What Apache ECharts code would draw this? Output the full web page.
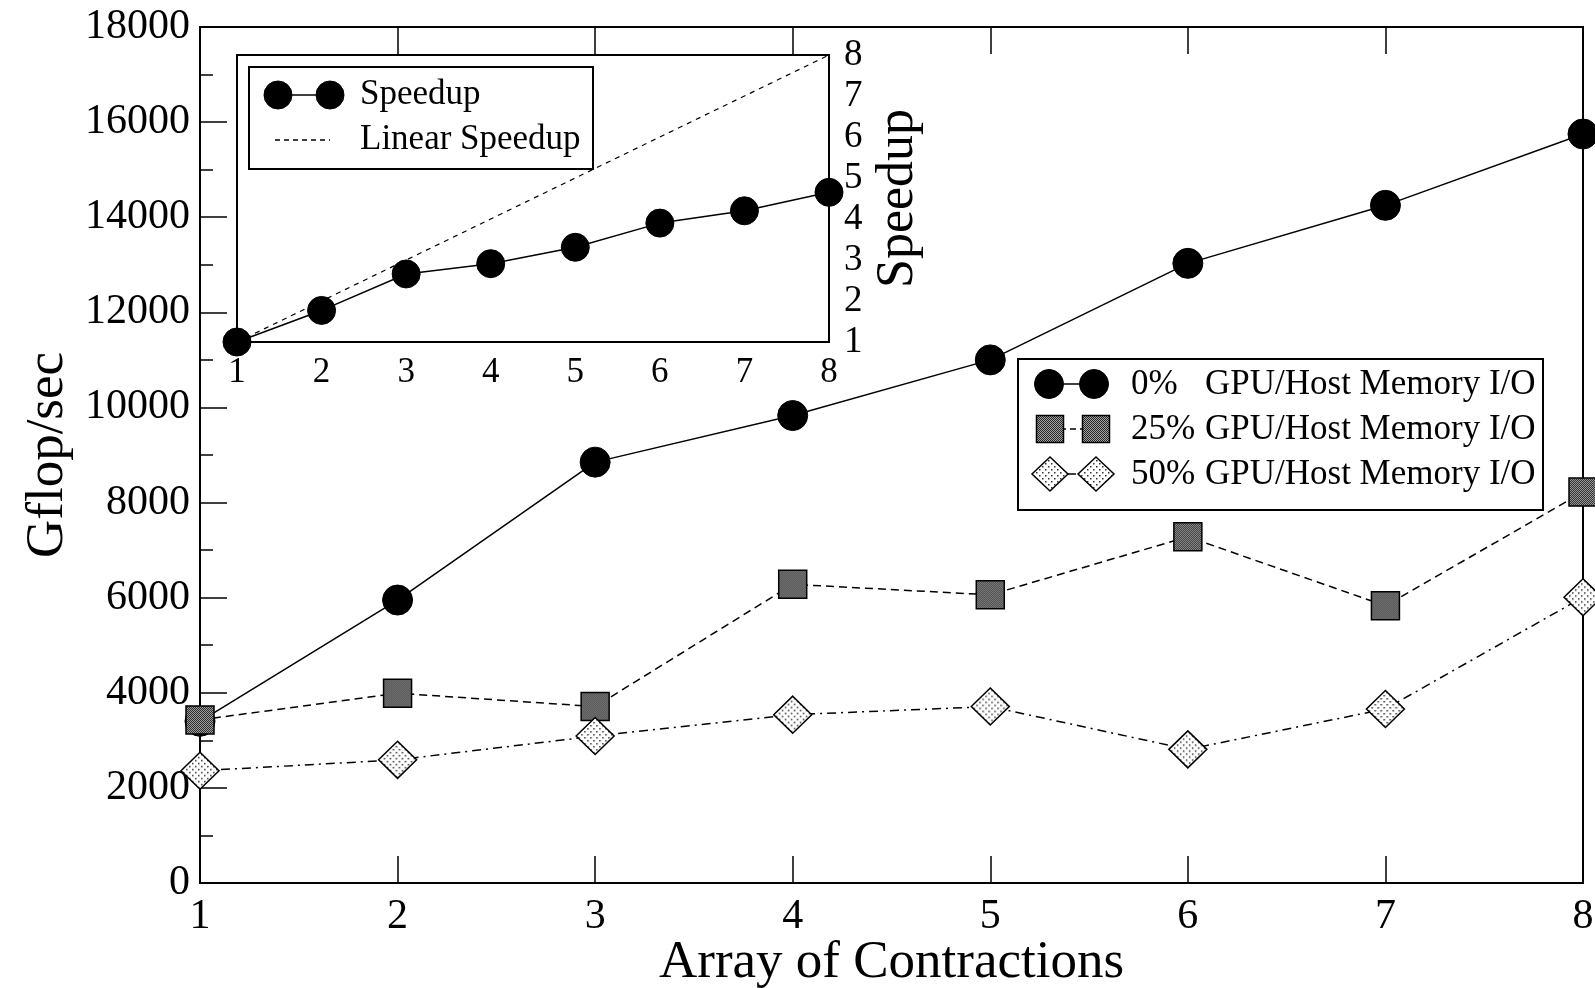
<!DOCTYPE html>
<html>
<head>
<meta charset="utf-8">
<script src="https://cdn.jsdelivr.net/npm/echarts@6/dist/echarts.min.js"></script>
<style>
html,body{margin:0;padding:0;background:#fff;}
#chart{width:1595px;height:988px;}
</style>
</head>
<body>
<div id="chart"></div>
<script>
// ---- data ----
var contractions = [1, 2, 3, 4, 5, 6, 7, 8];
var gflops0 = [3400, 5950, 8850, 9830, 11000, 13030, 14250, 15750];
var gflops25 = [3430, 3990, 3710, 6280, 6060, 7280, 5830, 8220];
var gflops50 = [2360, 2590, 3090, 3540, 3710, 2810, 3660, 6010];
var speedup = [1, 1.77, 2.66, 2.91, 3.31, 3.90, 4.20, 4.65];
var linearSpeedup = [1, 2, 3, 4, 5, 6, 7, 8];
var mainYTicks = { min: 0, max: 18000, interval: 2000 };
var insetYTicks = { min: 1, max: 8, interval: 1 };

function pairs(xs, ys) { return xs.map(function (x, i) { return [x, ys[i]]; }); }

// ---- patterns ----
function makeSquarePattern() {
  var c = document.createElement('canvas'); c.width = 2; c.height = 2;
  var g = c.getContext('2d');
  g.fillStyle = '#a4a4a4'; g.fillRect(0, 0, 2, 2);
  g.fillStyle = '#262626'; g.fillRect(0, 0, 1, 1); g.fillRect(1, 1, 1, 1);
  return c;
}
function makeDotPattern() {
  var c = document.createElement('canvas'); c.width = 6; c.height = 6;
  var g = c.getContext('2d');
  g.fillStyle = '#ffffff'; g.fillRect(0, 0, 6, 6);
  g.fillStyle = '#333'; g.fillRect(1, 1, 1.5, 1.5); g.fillRect(4, 4, 1.5, 1.5);
  return c;
}
var sqCanvas = makeSquarePattern();
var dotCanvas = makeDotPattern();
function pat(c, w, h) { return { image: c, repeat: 'repeat', scaleX: 2 / w, scaleY: 2 / h }; }
var SQ = 28, DW = 38, DH = 37, CIR = 30, ICIR = 28;
var sqPatSym = pat(sqCanvas, SQ, SQ);
var dotPatSym = pat(dotCanvas, DW, DH);
var sqPat = { image: sqCanvas, repeat: 'repeat' };
var dotPat = { image: dotCanvas, repeat: 'repeat' };

var FONT = 'Liberation Serif';
var chart = echarts.init(document.getElementById('chart'), null, { renderer: 'canvas' });

var axisLineStyle = { color: '#000', width: 2 };
function plain(v) { return String(v); }

function legendText(x, y, t, size) {
  return { type: 'text', x: x, y: y, z: 102,
    style: { text: t, fill: '#000', font: size + 'px "' + FONT + '"', verticalAlign: 'middle', align: 'left' } };
}
function circle(cx, cy, r) {
  return { type: 'circle', z: 102, shape: { cx: cx, cy: cy, r: r }, style: { fill: '#000', stroke: '#000' } };
}
function sline(x1, y1, x2, y2, dash) {
  return { type: 'line', z: 101, shape: { x1: x1, y1: y1, x2: x2, y2: y2 },
    style: { stroke: '#000', lineWidth: 1.5, lineDash: dash || null } };
}
function square(cx, cy, s) {
  return { type: 'rect', z: 102, shape: { x: cx - s / 2, y: cy - s / 2, width: s, height: s },
    style: { fill: sqPat, stroke: '#000', lineWidth: 1.5 } };
}
function diamond(cx, cy, w, h) {
  return { type: 'polygon', z: 102, shape: { points: [[cx, cy - h / 2], [cx + w / 2, cy], [cx, cy + h / 2], [cx - w / 2, cy]] },
    style: { fill: dotPat, stroke: '#000', lineWidth: 1.5 } };
}

var graphics = [
  // main legend
  { type: 'rect', z: 100, shape: { x: 1018, y: 359, width: 525, height: 151 }, style: { fill: '#fff', stroke: '#000', lineWidth: 2 } },
  sline(1049, 384, 1094, 384), circle(1049, 384, 14.5), circle(1094, 384, 14.5),
  legendText(1131, 385, '0%', 35), legendText(1205, 385, 'GPU/Host Memory I/O', 35),
  sline(1050, 429, 1096, 429, [6, 4]), square(1050, 429, 27), square(1096, 429, 27),
  legendText(1131, 430, '25%', 35), legendText(1205, 430, 'GPU/Host Memory I/O', 35),
  sline(1050, 474, 1096, 474, [8, 4, 2, 4]), diamond(1050, 474, 36, 34), diamond(1096, 474, 36, 34),
  legendText(1131, 475, '50%', 35), legendText(1205, 475, 'GPU/Host Memory I/O', 35),
  // inset legend
  { type: 'rect', z: 100, shape: { x: 249, y: 67, width: 344, height: 102 }, style: { fill: '#fff', stroke: '#000', lineWidth: 2 } },
  sline(278, 95, 330, 95), circle(278, 95, 14), circle(330, 95, 14),
  legendText(360, 95, 'Speedup', 35),
  sline(275, 140, 330, 140, [5, 4]),
  legendText(360, 140, 'Linear Speedup', 35)
];

var option = {
  backgroundColor: '#fff',
  animation: false,
  textStyle: { fontFamily: FONT },
  grid: [
    { left: 200, top: 27, width: 1383, height: 856, show: true, borderColor: '#000', borderWidth: 2,
      backgroundColor: 'transparent', containLabel: false, outerBoundsMode: 'none' },
    { left: 237, top: 55, width: 592, height: 287, show: true, borderColor: '#000', borderWidth: 2,
      backgroundColor: '#fff', z: 5, containLabel: false, outerBoundsMode: 'none' }
  ],
  xAxis: [
    { gridIndex: 0, type: 'value', min: 1, max: 8, interval: 1, position: 'bottom',
      name: 'Array of Contractions', nameLocation: 'middle', nameGap: 54, nameMoveOverlap: false,
      nameTextStyle: { fontFamily: FONT, fontSize: 53, color: '#000' },
      axisLine: { show: true, lineStyle: axisLineStyle },
      axisTick: { show: true, inside: true, length: 27, lineStyle: { color: '#000', width: 1.5 } },
      axisLabel: { fontFamily: FONT, fontSize: 42, color: '#000', margin: 13, formatter: plain },
      splitLine: { show: false } },
    { gridIndex: 0, type: 'value', min: 1, max: 8, interval: 1, position: 'top',
      axisLine: { show: false },
      axisTick: { show: true, inside: true, length: 27, lineStyle: { color: '#000', width: 1.5 } },
      axisLabel: { show: false }, splitLine: { show: false } },
    { gridIndex: 1, type: 'value', min: 1, max: 8, interval: 1, position: 'bottom',
      axisLine: { show: true, lineStyle: axisLineStyle },
      axisTick: { show: true, inside: true, length: 26, lineStyle: { color: '#000', width: 1.5 } },
      axisLabel: { fontFamily: FONT, fontSize: 35, color: '#000', margin: 13, formatter: plain },
      splitLine: { show: false } }
  ],
  yAxis: [
    { gridIndex: 0, type: 'value', min: mainYTicks.min, max: mainYTicks.max, interval: mainYTicks.interval, position: 'left',
      name: 'Gflop/sec', nameLocation: 'middle', nameGap: 124, nameRotate: 90,
      nameTextStyle: { fontFamily: FONT, fontSize: 53, color: '#000' },
      axisLine: { show: true, lineStyle: axisLineStyle },
      axisTick: { show: true, inside: true, length: 27, lineStyle: { color: '#000', width: 1.5 } },
      minorTick: { show: true, splitNumber: 2, length: 13, lineStyle: { color: '#000', width: 1.5 } },
      axisLabel: { fontFamily: FONT, fontSize: 42, color: '#000', margin: 10, formatter: plain },
      splitLine: { show: false }, minorSplitLine: { show: false } },
    { gridIndex: 1, type: 'value', min: insetYTicks.min, max: insetYTicks.max, interval: insetYTicks.interval, position: 'right',
      name: 'Speedup', nameLocation: 'middle', nameGap: 43, nameRotate: 90, nameMoveOverlap: false,
      nameTextStyle: { fontFamily: FONT, fontSize: 52, color: '#000' },
      axisLine: { show: true, lineStyle: axisLineStyle },
      axisTick: { show: true, inside: true, length: 27, lineStyle: { color: '#000', width: 1.5 } },
      axisLabel: { fontFamily: FONT, fontSize: 37, color: '#000', margin: 15, formatter: plain },
      splitLine: { show: false } }
  ],
  series: [
    { name: '0% GPU/Host Memory I/O', type: 'line', xAxisIndex: 0, yAxisIndex: 0, data: pairs(contractions, gflops0),
      symbol: 'circle', symbolSize: CIR, clip: false, z: 3,
      lineStyle: { color: '#000', width: 1.5, type: 'solid' },
      itemStyle: { color: '#000', borderColor: '#000', borderWidth: 1 } },
    { name: '25% GPU/Host Memory I/O', type: 'line', xAxisIndex: 0, yAxisIndex: 0, data: pairs(contractions, gflops25),
      symbol: 'rect', symbolSize: SQ, clip: false, z: 4,
      lineStyle: { color: '#000', width: 1.5, type: [8, 5] },
      itemStyle: { color: sqPatSym, borderColor: '#000', borderWidth: 1.5 } },
    { name: '50% GPU/Host Memory I/O', type: 'line', xAxisIndex: 0, yAxisIndex: 0, data: pairs(contractions, gflops50),
      symbol: 'diamond', symbolSize: [DW, DH], clip: false, z: 5,
      lineStyle: { color: '#000', width: 1.5, type: [9, 5, 2, 5] },
      itemStyle: { color: dotPatSym, borderColor: '#000', borderWidth: 1.5 } },
    { name: 'Linear Speedup', type: 'line', xAxisIndex: 2, yAxisIndex: 1, data: pairs(contractions, linearSpeedup),
      symbol: 'none', clip: false, z: 6,
      lineStyle: { color: '#000', width: 1.2, type: [5, 5] } },
    { name: 'Speedup', type: 'line', xAxisIndex: 2, yAxisIndex: 1, data: pairs(contractions, speedup),
      symbol: 'circle', symbolSize: ICIR, clip: false, z: 7,
      lineStyle: { color: '#000', width: 1.5 },
      itemStyle: { color: '#000', borderColor: '#000', borderWidth: 1 } }
  ],
  graphic: graphics
};
chart.setOption(option);
</script>
</body>
</html>
